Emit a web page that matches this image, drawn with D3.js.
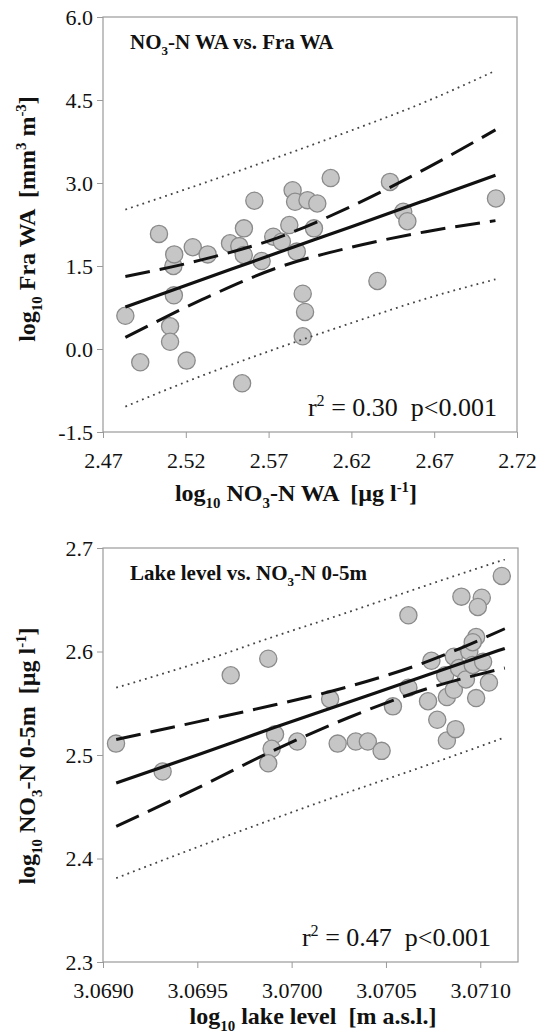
<!DOCTYPE html>
<html>
<head>
<meta charset="utf-8">
<script src="https://cdn.jsdelivr.net/npm/d3@7"></script>
<style>
  html, body { margin: 0; padding: 0; background: #fff; }
  svg text { font-family: "Liberation Serif", "Times New Roman", serif; fill: #111; white-space: pre; }
</style>
</head>
<body>
<svg id="canvas" width="539" height="1035"></svg>
<script>
// top panel: log10 NO3-N WA vs log10 Fra WA
const fraX = [2.4835, 2.4925, 2.5038, 2.5105, 2.5105, 2.5128, 2.5125, 2.5130, 2.5205, 2.5242,
              2.5332, 2.5467, 2.5523, 2.5551, 2.5550, 2.5540, 2.5614, 2.5658, 2.5728, 2.5780,
              2.5825, 2.5845, 2.5860, 2.5870, 2.5906, 2.5920, 2.5906, 2.5935, 2.5994, 2.5974,
              2.6075, 2.6357, 2.6433, 2.6513, 2.6538, 2.7073];
const fraY = [0.60, -0.24, 2.08, 0.41, 0.13, 0.97, 1.50, 1.71, -0.21, 1.84,
              1.71, 1.91, 1.86, 2.18, 1.70, -0.62, 2.68, 1.59, 2.03, 1.94,
              2.24, 2.87, 2.66, 1.76, 1.00, 0.67, 0.23, 2.69, 2.63, 2.18,
              3.09, 1.23, 3.02, 2.48, 2.31, 2.72];
const fraLineX = [2.4835, 2.53, 2.575, 2.62, 2.665, 2.707];
const fraFit   = [0.76, 1.255, 1.735, 2.21, 2.69, 3.14];
const fraCiUp  = [1.31, 1.615, 2.005, 2.58, 3.26, 3.96];
const fraCiLo  = [0.21, 0.895, 1.465, 1.84, 2.12, 2.32];
const fraPiUp  = [2.52, 2.99, 3.46, 3.95, 4.47, 5.03];
const fraPiLo  = [-1.04, -0.48, 0.01, 0.47, 0.91, 1.26];
const fraXTicks = [2.47, 2.52, 2.57, 2.62, 2.67, 2.72];
const fraYTicks = [-1.5, 0, 1.5, 3, 4.5, 6];

// bottom panel: log10 lake level vs log10 NO3-N 0-5m
const lakeX = [3.069069, 3.069316, 3.069677, 3.069876, 3.069912, 3.069894, 3.069876, 3.070030,
               3.070204, 3.070244, 3.070340, 3.070404, 3.070477, 3.070537, 3.070619, 3.070619,
               3.070723, 3.070741, 3.070772, 3.070823, 3.070823, 3.070814, 3.070860, 3.070860,
               3.070869, 3.070887, 3.070900, 3.070924, 3.070942, 3.070960, 3.071008, 3.070978,
               3.070987, 3.070978, 3.071015, 3.071046, 3.071114, 3.070960];
const lakeY = [2.511, 2.484, 2.577, 2.593, 2.520, 2.506, 2.492, 2.513,
               2.554, 2.511, 2.513, 2.513, 2.504, 2.547, 2.635, 2.565,
               2.552, 2.591, 2.534, 2.514, 2.556, 2.577, 2.595, 2.563,
               2.525, 2.584, 2.653, 2.573, 2.600, 2.587, 2.652, 2.614,
               2.643, 2.555, 2.590, 2.570, 2.673, 2.609];
const lakeLineX = [3.06907, 3.0695, 3.0699, 3.0703, 3.0707, 3.07113];
const lakeFit   = [2.473, 2.500, 2.526, 2.551, 2.576, 2.603];
const lakeCiUp  = [2.515, 2.532, 2.548, 2.566, 2.589, 2.622];
const lakeCiLo  = [2.431, 2.468, 2.504, 2.536, 2.563, 2.584];
const lakePiUp  = [2.565, 2.589, 2.614, 2.638, 2.663, 2.689];
const lakePiLo  = [2.381, 2.411, 2.438, 2.464, 2.489, 2.517];
const lakeXTicks = [3.069, 3.0695, 3.07, 3.0705, 3.071];
const lakeYTicks = [2.3, 2.4, 2.5, 2.6, 2.7];

const svg = d3.select("#canvas");
svg.append("rect").attr("width", 539).attr("height", 1035).attr("fill", "#fff");

const fixMinus = (s) => s.replace("\u2212", "-");

// appends tspans; parts: [text, "sub"|"sup"|undefined]
const richText = (textSel, parts, size) => {
    let shift = 0;
    parts.forEach(([t, kind]) => {
        let target = 0;
        let fs = size;
        if (kind === "sub") { target = size * 0.3; fs = size * 0.62; }
        if (kind === "sup") { target = -size * 0.38; fs = size * 0.62; }
        textSel.append("tspan")
            .attr("dy", target - shift)
            .attr("font-size", fs)
            .text(t);
        shift = target;
    });
};

const drawPanel = (p) => {
    const x = d3.scaleLinear().domain(p.xDomain).range([p.left, p.right]);
    const y = d3.scaleLinear().domain(p.yDomain).range([p.bottom, p.top]);
    const g = svg.append("g");

    const xAxis = g.append("g")
        .attr("transform", `translate(0,${p.bottom})`)
        .call(d3.axisBottom(x).tickValues(p.xTicks).tickFormat(p.xFormat).tickSize(6).tickPadding(14));
    const yAxis = g.append("g")
        .attr("transform", `translate(${p.left},0)`)
        .call(d3.axisLeft(y).tickValues(p.yTicks).tickFormat((d) => fixMinus(d3.format(".1f")(d))).tickSize(6).tickPadding(4));
    [xAxis, yAxis].forEach((a) => {
        a.select(".domain").remove();
        a.selectAll(".tick line").attr("stroke", "#9a9a9a");
        a.selectAll(".tick text").attr("font-size", 22).attr("fill", "#1a1a1a")
            .attr("font-family", "'Liberation Serif', 'Times New Roman', serif");
    });

    g.append("rect")
        .attr("x", p.left).attr("y", p.top)
        .attr("width", p.right - p.left).attr("height", p.bottom - p.top)
        .attr("fill", "none").attr("stroke", "#9a9a9a").attr("stroke-width", 1.2);

    g.selectAll("circle")
        .data(p.xs.map((v, i) => [v, p.ys[i]]))
        .enter()
        .append("circle")
        .attr("cx", (d) => x(d[0]))
        .attr("cy", (d) => y(d[1]))
        .attr("r", 8.6)
        .attr("fill", "#c6c6c6")
        .attr("stroke", "#8a8a8a")
        .attr("stroke-width", 1.3);

    const line = d3.line().x((d) => x(d[0])).y((d) => y(d[1])).curve(d3.curveMonotoneX);
    const series = [
        { v: p.piUp, dash: "1.8,4.2", w: 1.8, c: "#444" },
        { v: p.piLo, dash: "1.8,4.2", w: 1.8, c: "#444" },
        { v: p.ciUp, dash: "25,10", w: 3, c: "#111" },
        { v: p.ciLo, dash: "25,10", w: 3, c: "#111" },
        { v: p.fit, dash: null, w: 3.2, c: "#111" }
    ];
    series.forEach((s) => {
        g.append("path")
            .attr("d", line(p.lineX.map((v, i) => [v, s.v[i]])))
            .attr("fill", "none")
            .attr("stroke", s.c)
            .attr("stroke-width", s.w)
            .attr("stroke-dasharray", s.dash);
    });

    const title = g.append("text")
        .attr("x", p.left + 27).attr("y", p.top + 32)
        .attr("font-size", 21).attr("font-weight", "bold");
    richText(title, p.title, 21);

    const stat = g.append("text")
        .attr("x", p.statX).attr("y", p.bottom - 16)
        .attr("text-anchor", "end").attr("font-size", 26);
    richText(stat, p.stat, 26);

    const xt = g.append("text")
        .attr("x", p.xTitleX).attr("y", p.xTitleY)
        .attr("text-anchor", "middle").attr("font-size", 24).attr("font-weight", "bold");
    richText(xt, p.xTitle, 24);

    const yt = g.append("text")
        .attr("transform", `translate(35,${p.yTitleY}) rotate(-90)`)
        .attr("text-anchor", "middle").attr("font-size", 24).attr("font-weight", "bold");
    richText(yt, p.yTitle, 24);
};

drawPanel({
    left: 103, right: 517, top: 17, bottom: 432,
    xDomain: [2.47, 2.72], yDomain: [-1.5, 6],
    xTicks: fraXTicks, yTicks: fraYTicks, xFormat: d3.format(".2f"),
    xs: fraX, ys: fraY,
    lineX: fraLineX, fit: fraFit, ciUp: fraCiUp, ciLo: fraCiLo, piUp: fraPiUp, piLo: fraPiLo,
    title: [["NO"], ["3", "sub"], ["-N WA vs. Fra WA"]],
    stat: [["r"], ["2", "sup"], [" = 0.30  p<0.001"]],
    statX: 497,
    xTitle: [["log"], ["10", "sub"], [" NO"], ["3", "sub"], ["-N WA  [\u00b5g l"], ["-1", "sup"], ["]"]],
    xTitleX: 296, xTitleY: 501,
    yTitle: [["log"], ["10", "sub"], [" Fra WA  [mm"], ["3", "sup"], [" m"], ["-3", "sup"], ["]"]],
    yTitleY: 219
});

drawPanel({
    left: 103, right: 518, top: 548, bottom: 962,
    xDomain: [3.069, 3.0712], yDomain: [2.3, 2.7],
    xTicks: lakeXTicks, yTicks: lakeYTicks, xFormat: d3.format(".4f"),
    xs: lakeX, ys: lakeY,
    lineX: lakeLineX, fit: lakeFit, ciUp: lakeCiUp, ciLo: lakeCiLo, piUp: lakePiUp, piLo: lakePiLo,
    title: [["Lake level vs. NO"], ["3", "sub"], ["-N 0-5m"]],
    stat: [["r"], ["2", "sup"], [" = 0.47  p<0.001"]],
    statX: 491,
    xTitle: [["log"], ["10", "sub"], [" lake level  [m a.s.l.]"]],
    xTitleX: 313, xTitleY: 1024,
    yTitle: [["log"], ["10", "sub"], [" NO"], ["3", "sub"], ["-N 0-5m  [\u00b5g l"], ["-1", "sup"], ["]"]],
    yTitleY: 756
});
</script>
</body>
</html>
